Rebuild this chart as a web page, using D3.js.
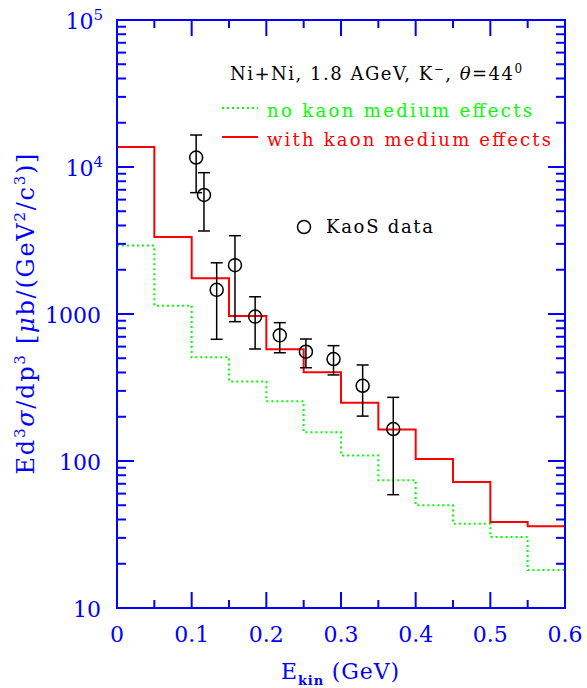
<!DOCTYPE html>
<html>
<head>
<meta charset="utf-8">
<script src="https://cdn.jsdelivr.net/npm/d3@7"></script>
<style>
  body { margin: 0; background: #fff; }
  text { font-family: "DejaVu Serif", serif; }
</style>
</head>
<body>
<svg id="chart" width="587" height="688"></svg>
<script>
// bin edges (GeV) for the model histograms
var binEdges = [0, 0.05, 0.1, 0.15, 0.2, 0.25, 0.3, 0.35, 0.4, 0.45, 0.5, 0.55, 0.6];
// with kaon medium effects (red, solid)
var withMedium = [13700, 3340, 1750, 970, 575, 401, 249, 164, 103, 72, 38.5, 36];
// no kaon medium effects (green, dotted)
var noMedium = [2920, 1140, 507, 348, 255, 157, 109, 74, 50, 37.4, 30.4, 18.1];

// KaoS data points
var kaosE   = [0.106, 0.1165, 0.1335, 0.158, 0.185, 0.218, 0.253, 0.290, 0.329, 0.370];
var kaosVal = [11600, 6450, 1460, 2150, 960, 716, 554, 494, 325, 165];
var kaosHi  = [16500, 9150, 2230, 3410, 1310, 873, 676, 609, 450, 271];
var kaosLo  = [6690, 3670, 673, 887, 578, 545, 431, 385, 202, 59];

var xTicks = [0, 0.1, 0.2, 0.3, 0.4, 0.5, 0.6];
var xTickLabels = ['0', '0.1', '0.2', '0.3', '0.4', '0.5', '0.6'];
var yDecades = [10, 100, 1000, 1e4, 1e5];

(function() {
    var blue = '#0000ff';
    var green = '#00ff00';
    var svg = d3.select('#chart');
    var pl = 117, pr = 565, pt = 20, pb = 608;

    var x = d3.scaleLinear().domain([0, 0.6]).range([pl, pr]);
    var y = d3.scaleLog().domain([10, 1e5]).range([pb, pt]);

    // ---- model histograms
    function stepPoints(vals) {
        var pts = vals.map(function(v, i) { return [binEdges[i], v]; });
        pts.push([binEdges[binEdges.length - 1], vals[vals.length - 1]]);
        return pts;
    }
    var line = d3.line()
        .x(function(d) { return x(d[0]); })
        .y(function(d) { return y(d[1]); })
        .curve(d3.curveStepAfter);

    svg.append('path')
        .attr('d', line(stepPoints(noMedium)))
        .style('fill', 'none')
        .style('stroke', green)
        .style('stroke-width', 2)
        .style('stroke-dasharray', '2,3');

    svg.append('path')
        .attr('d', line(stepPoints(withMedium)))
        .style('fill', 'none')
        .style('stroke', '#ff0000')
        .style('stroke-width', 2);

    // ---- data points with error bars
    var pts = kaosE.map(function(e, i) {
        return { e: e, v: kaosVal[i], hi: kaosHi[i], lo: kaosLo[i] };
    });
    var g = svg.append('g').selectAll('g')
        .data(pts)
        .enter()
        .append('g')
        .style('stroke', '#000')
        .style('stroke-width', 1.5)
        .style('fill', 'none');

    g.append('line')
        .attr('x1', function(d) { return x(d.e); })
        .attr('x2', function(d) { return x(d.e); })
        .attr('y1', function(d) { return y(d.hi); })
        .attr('y2', function(d) { return y(d.lo); });
    g.append('line')
        .attr('x1', function(d) { return x(d.e) - 6; })
        .attr('x2', function(d) { return x(d.e) + 6; })
        .attr('y1', function(d) { return y(d.hi); })
        .attr('y2', function(d) { return y(d.hi); });
    g.append('line')
        .attr('x1', function(d) { return x(d.e) - 6; })
        .attr('x2', function(d) { return x(d.e) + 6; })
        .attr('y1', function(d) { return y(d.lo); })
        .attr('y2', function(d) { return y(d.lo); });
    g.append('circle')
        .attr('cx', function(d) { return x(d.e); })
        .attr('cy', function(d) { return y(d.v); })
        .attr('r', 6.5);

    // ---- frame and ticks
    var axes = svg.append('g').style('stroke', blue).style('stroke-width', 2);
    axes.append('rect')
        .attr('x', pl).attr('y', pt)
        .attr('width', pr - pl).attr('height', pb - pt)
        .style('fill', 'none');

    d3.range(0, 13).forEach(function(i) {
        var v = i * 0.05;
        var len = (i % 2 == 0) ? 16 : 8;
        axes.append('line').attr('x1', x(v)).attr('x2', x(v)).attr('y1', pb).attr('y2', pb - len);
        axes.append('line').attr('x1', x(v)).attr('x2', x(v)).attr('y1', pt).attr('y2', pt + len);
    });

    yDecades.forEach(function(dec, k) {
        axes.append('line').attr('x1', pl).attr('x2', pl + 17).attr('y1', y(dec)).attr('y2', y(dec));
        axes.append('line').attr('x1', pr).attr('x2', pr - 17).attr('y1', y(dec)).attr('y2', y(dec));
        if (k == yDecades.length - 1) return;
        for (var m = 2; m <= 9; m++) {
            var v = dec * m;
            axes.append('line').attr('x1', pl).attr('x2', pl + 9).attr('y1', y(v)).attr('y2', y(v));
            axes.append('line').attr('x1', pr).attr('x2', pr - 9).attr('y1', y(v)).attr('y2', y(v));
        }
    });

    // ---- tick labels
    svg.selectAll('text.xt')
        .data(xTicks)
        .enter()
        .append('text')
        .attr('class', 'xt')
        .attr('x', function(d) { return x(d); })
        .attr('y', 642)
        .attr('text-anchor', 'middle')
        .style('font-size', '22px')
        .style('fill', blue)
        .text(function(d, i) { return xTickLabels[i]; });

    var yLab = [
        { v: 10, base: '10', sup: '' },
        { v: 100, base: '100', sup: '' },
        { v: 1000, base: '1000', sup: '' },
        { v: 1e4, base: '10', sup: '4' },
        { v: 1e5, base: '10', sup: '5' }
    ];
    yLab.forEach(function(d) {
        var t = svg.append('text')
            .attr('x', d.sup ? 103 : 101)
            .attr('y', y(d.v) + 9)
            .attr('text-anchor', 'end')
            .style('font-size', '22px')
            .style('fill', blue);
        t.append('tspan').text(d.base);
        if (d.sup) {
            t.append('tspan').attr('dy', -9).style('font-size', '15px').text(d.sup);
        }
    });

    // ---- axis titles
    var xt = svg.append('text')
        .attr('x', 281).attr('y', 679)
        .attr('textLength', 118)
        .style('font-size', '22px')
        .style('fill', blue);
    xt.append('tspan').text('E');
    xt.append('tspan').attr('dy', 6).style('font-size', '13px').style('font-weight', 'bold').text('kin');
    xt.append('tspan').attr('dy', -6).text('  (GeV)');

    var yt = svg.append('text')
        .attr('transform', 'translate(34,314) rotate(-90)')
        .attr('text-anchor', 'middle')
        .attr('textLength', 321)
        .style('font-size', '24px')
        .style('fill', blue);
    yt.append('tspan').text('Ed');
    yt.append('tspan').attr('dy', -9).style('font-size', '15px').text('3');
    yt.append('tspan').attr('dy', 9).style('font-style', 'italic').text('σ');
    yt.append('tspan').text('/dp');
    yt.append('tspan').attr('dy', -9).style('font-size', '15px').text('3');
    yt.append('tspan').attr('dy', 9).text(' [');
    yt.append('tspan').style('font-style', 'italic').text('μ');
    yt.append('tspan').text('b/(GeV');
    yt.append('tspan').attr('dy', -9).style('font-size', '15px').text('2');
    yt.append('tspan').attr('dy', 9).text('/c');
    yt.append('tspan').attr('dy', -9).style('font-size', '15px').text('3');
    yt.append('tspan').attr('dy', 9).text(')]');

    // ---- title and legend
    var title = svg.append('text')
        .attr('x', 230).attr('y', 80)
        .style('font-size', '18px')
        .style('letter-spacing', '1.5px')
        .style('fill', '#000');
    title.append('tspan').text('Ni+Ni,  1.8  AGeV,  K');
    title.append('tspan').attr('dy', -7).style('font-size', '12px').text('−');
    title.append('tspan').attr('dy', 7).text(',  ');
    title.append('tspan').style('font-style', 'italic').text('θ');
    title.append('tspan').text('=44');
    title.append('tspan').attr('dy', -7).style('font-size', '12px').text('0');

    svg.append('line')
        .attr('x1', 222).attr('x2', 258).attr('y1', 108).attr('y2', 108)
        .style('stroke', green).style('stroke-width', 2).style('stroke-dasharray', '2,3');
    svg.append('text')
        .attr('x', 267).attr('y', 117)
        .attr('textLength', 265)
        .style('font-size', '18px')
        .style('fill', green)
        .text('no kaon medium effects');

    svg.append('line')
        .attr('x1', 222).attr('x2', 258).attr('y1', 137).attr('y2', 137)
        .style('stroke', '#ff0000').style('stroke-width', 2);
    svg.append('text')
        .attr('x', 267).attr('y', 146)
        .attr('textLength', 284)
        .style('font-size', '18px')
        .style('fill', '#ff0000')
        .text('with kaon medium effects');

    svg.append('circle')
        .attr('cx', 304).attr('cy', 227).attr('r', 6.5)
        .style('fill', 'none').style('stroke', '#000').style('stroke-width', 1.5);
    svg.append('text')
        .attr('x', 326).attr('y', 233)
        .attr('textLength', 107)
        .style('font-size', '18px')
        .style('fill', '#000')
        .text('KaoS data');
})();
</script>
</body>
</html>
